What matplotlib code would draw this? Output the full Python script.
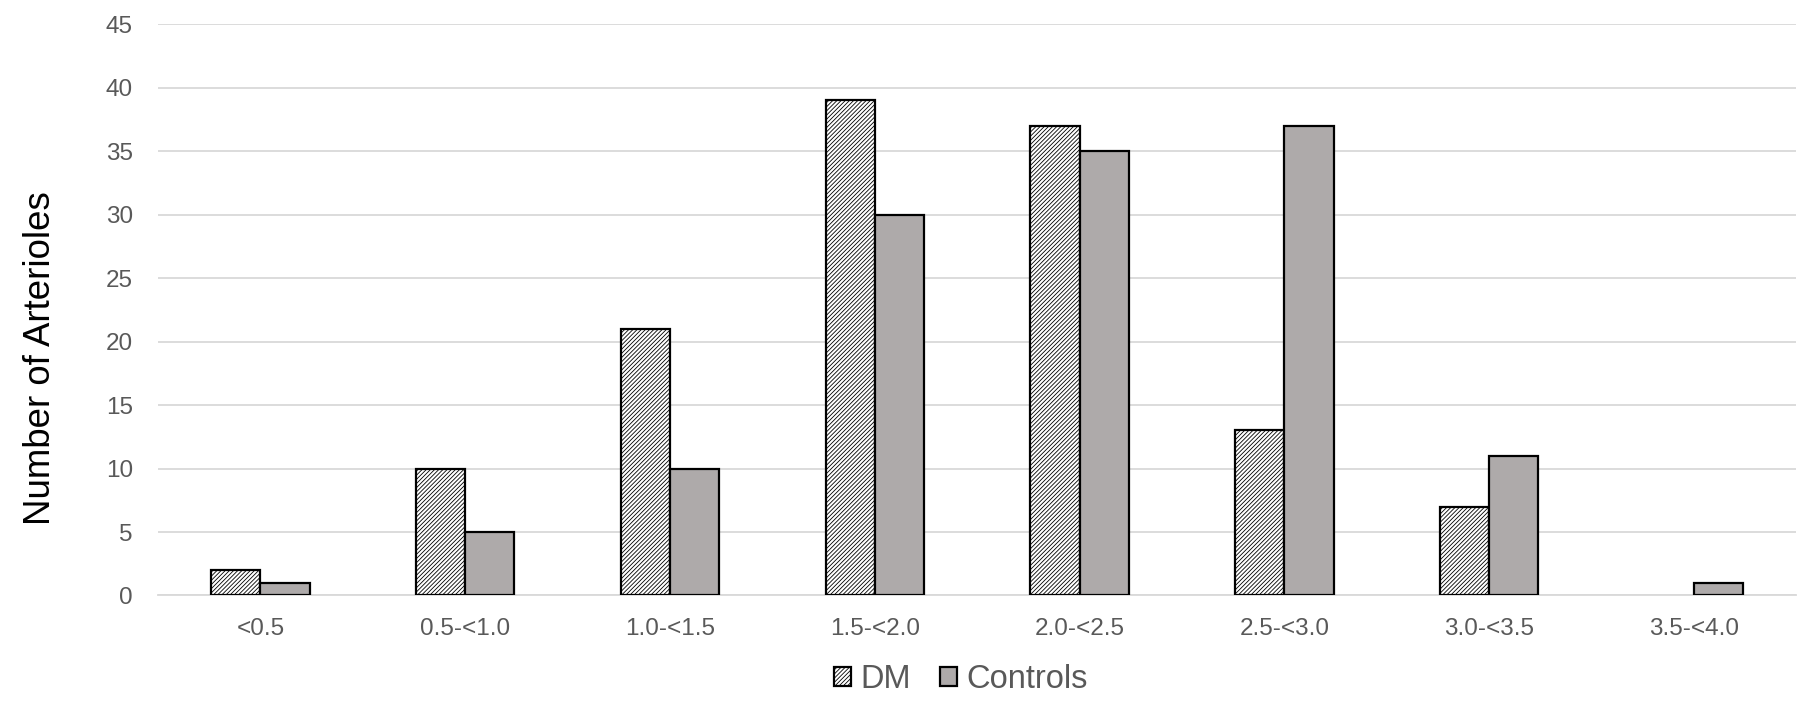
import numpy as np
import matplotlib.pyplot as plt
from matplotlib.patches import Patch

plt.rcParams['font.family'] = ['Liberation Sans', 'DejaVu Sans']
plt.rcParams['hatch.color'] = '#a0a0a0'
plt.rcParams['hatch.linewidth'] = 0.6

# data
categories = ["<0.5", "0.5-<1.0", "1.0-<1.5", "1.5-<2.0", "2.0-<2.5", "2.5-<3.0", "3.0-<3.5", "3.5-<4.0"]
dm = [2, 10, 21, 39, 37, 13, 7, 0]
controls = [1, 5, 10, 30, 35, 37, 11, 1]

fig = plt.figure(figsize=(18.2, 7.14), dpi=100)
ax = fig.add_axes([0.0868, 0.166, 0.9002, 0.800])

x = np.arange(len(categories))
w = 0.24
dm_bars = ax.bar(x - w / 2, dm, w, facecolor='white', edgecolor='black',
                 linewidth=1.6, hatch='////////', zorder=3)
# hide the empty DM bar outline
for b, v in zip(dm_bars, dm):
    if v == 0:
        b.set_visible(False)
ax.bar(x + w / 2, controls, w, facecolor='#aeaaaa', edgecolor='black',
       linewidth=1.6, zorder=3)

ax.set_xlim(-0.5, len(categories) - 0.5)
ax.set_ylim(0, 45)
ax.set_yticks(range(0, 46, 5))
ax.yaxis.grid(True, color='#d9d9d9', linewidth=1.3, zorder=0)
ax.set_axisbelow(True)
for s in ['top', 'right', 'left']:
    ax.spines[s].set_visible(False)
ax.spines['bottom'].set_color('#d9d9d9')
ax.spines['bottom'].set_linewidth(1.3)
ax.set_xticks(x)
ax.set_xticklabels(categories)
ax.tick_params(axis='both', length=0, labelsize=17.5, labelcolor='#595959')
ax.tick_params(axis='x', pad=16)
ax.tick_params(axis='y', pad=18)

ax.set_ylabel("Number of Arterioles", fontsize=26.4, color='black')
ax.yaxis.set_label_coords(-0.061, 0.416)

handles = [Patch(facecolor='white', edgecolor='black', hatch='////////', linewidth=1.6, label='DM'),
           Patch(facecolor='#aeaaaa', edgecolor='black', linewidth=1.6, label='Controls')]
leg = fig.legend(handles=handles, loc='center', bbox_to_anchor=(0.528, 0.048), ncol=2,
                 frameon=False, fontsize=23.5, handlelength=0.5, handleheight=0.5,
                 handletextpad=0.3, columnspacing=0.9)
for t in leg.get_texts():
    t.set_color('#595959')

fig.savefig('out.png', dpi=100)
